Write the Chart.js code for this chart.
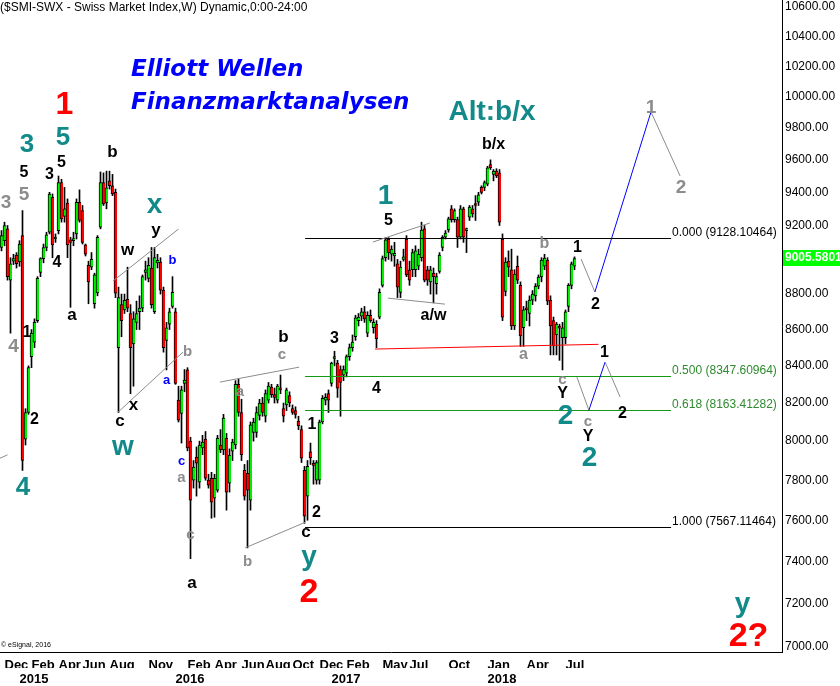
<!DOCTYPE html>
<html><head><meta charset="utf-8">
<style>html,body{margin:0;padding:0;background:#fff;overflow:hidden}canvas{display:block}</style>
<script src="https://cdn.jsdelivr.net/npm/chart.js@4.4.1/dist/chart.umd.min.js"></script>
</head><body>
<canvas id="c" width="840" height="686"></canvas>
<script>
// Weekly SMI candles, week 0 = 24 Nov 2014
const opens = [
9070,9110,9180,8880,8990,9025,8985,9140,8010,8150,
8450,8530,8650,8925,9005,9070,9160,9370,9120,9170,
9460,9255,9335,9115,9110,9150,9340,9290,9085,8965,
8955,8745,8806,9190,9460,9335,9470,9440,9400,8500,
8740,8710,8770,8690,8520,8640,8700,8720,8925,8890,
8950,8700,8980,8985,8823,8540,8630,8730,8700,8216,
8145,8305,8378,8000,7800,7918,7790,7965,8010,7800,
7810,7710,7750,7980,7955,8015,7785,7948,7980,8300,
8150,7850,7835,7700,8045,8045,8135,8200,8130,8215,
8285,8245,8215,8280,8170,8190,8240,8170,8160,8105,
8060,7850,7720,7945,7880,7800,7800,8100,8215,8250,
8305,8440,8415,8380,8350,8360,8450,8500,8560,8650,
8675,8700,8580,8680,8610,8630,8670,8850,9010,9120,
9030,9020,8975,8810,9000,9120,8940,8940,8940,8960,
9010,9180,8940,8870,8920,8860,8930,9070,9130,9173,
9300,9235,9235,9130,9300,9170,9250,9300,9330,9340,
9430,9430,9450,9570,9510,9530,9520,9120,8815,8990,
8940,8620,8960,8850,8610,8720,8690,8766,8790,8845,
8898,8960,8996,8766,8650,8570,8615,8555,8555,8730,
8850,8960];
const highs = [
9170,9220,9200,9010,9030,9040,9110,9290,8170,8400,
8600,8660,8900,9010,9090,9160,9400,9390,9150,9500,
9480,9430,9360,9130,9160,9360,9415,9320,9090,8990,
9040,8920,9140,9525,9519,9530,9530,9510,9420,8840,
8800,8800,8955,8740,8700,8760,8790,8910,8990,9010,
9070,9070,9030,9010,8840,8640,8720,8900,8720,8290,
8290,8380,8390,8020,7900,7970,8000,8030,8050,7830,
7840,7830,8030,8060,8140,8040,7960,8010,8320,8330,
8220,7880,7900,8100,8120,8180,8220,8230,8270,8310,
8300,8280,8300,8350,8200,8280,8260,8190,8180,8130,
8080,7870,7900,7990,7900,7900,8110,8240,8250,8270,
8420,8480,8430,8400,8400,8460,8520,8570,8680,8690,
8720,8730,8700,8710,8660,8650,8830,9020,9128,9128,
9080,9100,9000,8990,9060,9140,8990,9060,9080,9060,
9220,9200,8960,8960,8950,8920,9040,9140,9170,9250,
9320,9300,9250,9320,9310,9185,9320,9320,9380,9400,
9440,9470,9560,9600,9540,9545,9540,9150,9010,9050,
9060,8940,9020,8870,8730,8760,8790,8820,8860,8910,
9010,9030,9010,8790,8670,8640,8630,8640,8710,8860,
8985,9015];
const lows = [
9050,9080,8880,8580,8970,8950,8960,7850,7980,8140,
8390,8500,8640,8900,8980,9050,9150,9010,9100,9150,
9220,9220,9010,8725,9080,9120,9220,9090,9020,8745,
8940,8720,8790,9180,9320,9300,9420,9380,8780,8150,
8560,8690,8700,8250,8290,8600,8600,8700,8880,8870,
8720,8690,8950,8800,8475,8378,8600,8720,8300,8100,
7990,8260,7950,7413,7760,7720,7760,7930,7800,7760,
7610,7615,7740,7940,7930,7650,7740,7900,7960,8130,
7900,7700,7465,7650,8000,8020,8110,8130,8100,8200,
8230,8200,8200,8250,8100,8160,8180,8140,8120,8060,
7890,7585,7600,7880,7780,7780,7780,8090,8190,8150,
8290,8400,8230,8130,8320,8340,8430,8480,8540,8620,
8650,8640,8560,8640,8580,8500,8660,8840,8990,9000,
8990,8960,8780,8780,8990,8900,8850,8900,8900,8940,
8990,8870,8850,8800,8750,8800,8920,9050,9120,9160,
9220,9220,9070,9120,9100,9040,9230,9250,9230,9320,
9390,9410,9440,9540,9470,9490,9200,8650,8790,8900,
8600,8600,8860,8507,8507,8650,8620,8740,8760,8830,
8870,8940,8740,8460,8460,8460,8430,8378,8520,8700,
8830,8940];
const closes = [
9140,9200,8900,8975,9005,8975,9090,7900,8150,8390,
8580,8640,8890,9005,9070,9145,9390,9085,9130,9460,
9240,9300,9085,9100,9115,9340,9230,9100,9030,8870,
9000,8910,9130,9460,9330,9427,9440,9390,8805,8780,
8650,8765,8720,8500,8660,8690,8720,8900,8940,8965,
8740,9010,8995,8823,8500,8610,8700,8810,8305,8110,
8270,8323,7965,7700,7866,7886,7980,7995,7810,7775,
7690,7810,8015,7955,8120,7740,7928,7995,8300,8150,
7930,7720,7750,8085,8100,8150,8200,8150,8250,8290,
8245,8230,8290,8270,8130,8270,8200,8150,8140,8080,
7912,7620,7870,7915,7875,7890,8100,8225,8230,8215,
8415,8450,8280,8310,8380,8450,8500,8530,8665,8670,
8700,8660,8680,8650,8640,8550,8810,9005,9115,9040,
9060,9035,8840,8955,9015,8910,8880,9040,9050,9030,
9173,8880,8880,8940,8900,8900,9025,9130,9155,9240,
9235,9290,9130,9300,9130,9175,9310,9270,9320,9385,
9400,9460,9550,9550,9530,9500,9220,8670,8985,8955,
8620,8915,8880,8565,8710,8710,8766,8800,8845,8898,
8996,9008,8760,8620,8510,8630,8608,8610,8700,8850,
8975,9005];
const lastPrice = 9005.5801;

// axis labels
const yTickValues = [7000,7200,7400,7600,7800,8000,8200,8400,8600,8800,9000,9200,9400,9600,9800,10000,10200,10400,10600];
const monthLabels = ['Dec','Feb','Apr','Jun','Aug','Nov','Feb','Apr','Jun','Aug','Oct','Dec','Feb','May','Jul','Oct','Jan','Apr','Jul'];
const monthWeeks  = [1,10,19,27,36,49,62,71,80,88,97,106,115,127,136,149,162,175,188];
const yearLabels = ['2015','2016','2017','2018'];
const yearWeeks  = [6,58,110,162];

// Fibonacci levels
const fibRatios = ['0.000','0.500','0.618','1.000'];
const fibValues = [9128.10464, 8347.60964, 8163.41282, 7567.11464];
const fibFromWeek = 101.2, fibToWeek = 223.2;

// Elliott wave annotations: [text, week, price, colour, font size]
const waveLabels = [
['1',21,9948,'red',32],['5',20.5,9737,'teal',26],['3',8.5,9693,'teal',26],
['5',20,9580,'black',16],['3',16,9506,'black',16],['5',7.5,9519,'black',16],
['5',7.5,9383,'gray',19],['3',1.5,9335,'gray',19],['4',18.5,8984,'black',16],
['4',4,8502,'gray',19],['1',8.5,8581,'black',16],['2',11,8110,'black',16],
['4',7.2,7760,'teal',26],['a',23.5,8682,'black',17],['b',37,9649,'black',17],
['x',51,9323,'teal',28],['y',51.5,9173,'black',17],['w',42,9055,'black',17],
['b',57,8996,'blue',13],['a',55,8323,'blue',13],['b',62,8475,'gray',15],
['x',44,8189,'black',17],['c',39.5,8105,'black',17],['w',40.5,7969,'teal',28],
['c',60,7897,'blue',13],['a',60,7810,'gray',15],['c',63,7527,'gray',15],
['a',63.5,7297,'black',17],['a',79.5,8259,'gray',15],['b',94,8559,'black',17],
['c',93.5,8459,'gray',15],['b',82,7397,'gray',15],['1',103.5,8084,'black',16],
['c',101.5,7542,'black',17],['2',105,7636,'black',16],['y',102.5,7421,'teal',28],
['2',102.5,7250,'red',34],['3',111,8548,'black',16],['4',125,8275,'black',16],
['5',129,9227,'black',16],['1',128,9378,'teal',28],['a/w',144,8676,'black',16],
['Alt:b/x',163.5,9903,'teal',28],['b/x',164,9693,'black',16],['b',181,9090,'gray',16],
['a',174,8459,'gray',16],['1',192,9067,'black',16],['2',198,8743,'black',16],
['c',187,8323,'gray',15],['Y',187,8248,'black',16],['2',188,8130,'teal',28],
['1',201,8470,'black',16],['2',207,8146,'black',16],['c',195.5,8099,'gray',15],
['Y',195.5,8026,'black',16],['2',196,7914,'teal',28],['1',216.5,9928,'gray',19],
['2',226.5,9427,'gray',19],['y',247,7199,'teal',28],['2?',249,7050,'red',34]
];
// lines: [week1, price1, week2, price2, colour]
const waveLines = [
[-0.5,7912,2,7929,'gray'],[37.2,8875,59,9179,'gray'],[38.8,8151,60.5,8475,'gray'],
[72.8,8312,99.2,8393,'gray'],[81.2,7465,101.2,7590,'gray'],[123.8,9102,142.8,9215,'gray'],
[128.8,8777,147.8,8743,'gray'],[124.5,8492,199,8518,'red'],
[193.2,9002,197.8,8812,'gray'],[197.8,8812,216.5,9903,'blue'],[216.5,9903,226.2,9500,'gray'],
[191.8,8339,195.8,8162,'gray'],[195.8,8162,201.2,8421,'blue'],[201.2,8421,206.2,8232,'gray']
];
const colours = {red:'#ff0000', teal:'#138a8a', gray:'#8c8c8c', blue:'#0000ff', black:'#000000'};

const bodies = opens.map((o,i)=>({x:i, y:[o, closes[i]]}));
const wicks = opens.map((o,i)=>({x:i, y:[Math.min(lows[i],o,closes[i]), Math.max(highs[i],o,closes[i])]}));
const bodyColors = opens.map((o,i)=> closes[i]>=o ? '#00ee00' : '#ff0000');

const X_MIN = -0.5, X_MAX = -0.5 + 782/3;

const overlay = {
  id:'overlay',
  afterDatasetsDraw(chart){
    const {ctx, chartArea:a, scales} = chart;
    const X = v=>scales.x.getPixelForValue(v), Y = v=>scales.y.getPixelForValue(v);
    ctx.save();
    ctx.beginPath(); ctx.rect(a.left,a.top,a.right-a.left,a.bottom-a.top); ctx.clip();
    // header texts
    ctx.fillStyle='#000'; ctx.font='12px "Liberation Sans"'; ctx.textAlign='left'; ctx.textBaseline='middle';
    ctx.fillText('($SMI-SWX - Swiss Market Index,W) Dynamic,0:00-24:00', a.left, a.top+8);
    ctx.fillStyle='#0000ff'; ctx.font='italic bold 23px "DejaVu Sans"';
    ctx.fillText('Elliott Wellen', a.left+131, a.top+70);
    ctx.fillText('Finanzmarktanalysen', a.left+131, a.top+103);
    ctx.fillStyle='#000'; ctx.font='7px "Liberation Sans"';
    ctx.fillText('\u00a9 eSignal, 2016', a.left+1, a.bottom-7);
    // fib lines
    ctx.lineWidth=1;
    fibValues.forEach((v,i)=>{
      const isGreen = i===1||i===2;
      const yy = Math.round(Y(v))+0.5;
      ctx.strokeStyle = isGreen ? '#129a12' : '#000';
      ctx.beginPath(); ctx.moveTo(X(fibFromWeek),yy); ctx.lineTo(X(fibToWeek),yy); ctx.stroke();
      ctx.fillStyle = isGreen ? '#2e8b2e' : '#000';
      ctx.font='12px "Liberation Sans"'; ctx.textAlign='left'; ctx.textBaseline='alphabetic';
      ctx.fillText(fibRatios[i]+' ('+v.toFixed(5)+')', X(fibToWeek)+1, yy-3);
    });
    // wave lines
    waveLines.forEach(l=>{
      ctx.strokeStyle = colours[l[4]]; ctx.lineWidth=1;
      ctx.beginPath(); ctx.moveTo(X(l[0]),Y(l[1])); ctx.lineTo(X(l[2]),Y(l[3])); ctx.stroke();
    });
    // wave labels
    ctx.textAlign='center'; ctx.textBaseline='middle';
    waveLabels.forEach(w=>{
      ctx.fillStyle = colours[w[3]];
      ctx.font = 'bold '+w[4]+'px "Liberation Sans"';
      ctx.fillText(w[0], X(w[1]), Y(w[2]));
    });
    ctx.restore();
  },
  afterDraw(chart){
    const {ctx, chartArea:a, scales} = chart;
    const yy = scales.y.getPixelForValue(lastPrice);
    ctx.save();
    ctx.fillStyle='#00ff00'; ctx.fillRect(a.right+1, Math.round(yy)-8, 60, 16);
    ctx.fillStyle='#ffffff'; ctx.font='bold 12px "Liberation Sans"'; ctx.textAlign='left'; ctx.textBaseline='middle';
    ctx.fillText(lastPrice.toFixed(4), a.right+3, Math.round(yy));
    ctx.restore();
  }
};

new Chart(document.getElementById('c'), {
  type:'bar',
  data:{datasets:[
    {label:'body', data:bodies, order:0, grouped:false, barThickness:3, minBarLength:2,
     backgroundColor:bodyColors, borderColor:'#000', borderWidth:{left:1,right:0,top:1,bottom:1}, borderSkipped:false},
    {label:'wick', data:wicks, order:1, grouped:false, barThickness:1, backgroundColor:'#000', borderWidth:0}
  ]},
  options:{
    responsive:false, animation:false, devicePixelRatio:1,
    layout:{padding:0},
    plugins:{legend:{display:false}, tooltip:{enabled:false}},
    scales:{
      x:{type:'linear', position:'bottom', min:X_MIN, max:X_MAX, offset:false, weight:0,
         grid:{display:false, drawTicks:false}, border:{display:true, color:'#000', width:1},
         ticks:{autoSkip:false, maxRotation:0, align:'start', padding:6, color:'#000',
                font:{family:'Liberation Sans', size:13, weight:'bold'},
                callback:(v,i)=>monthLabels[i]},
         afterBuildTicks:s=>{s.ticks = monthWeeks.map(v=>({value:v}));},
         afterFit:s=>{s.height=16; s.paddingLeft=0; s.paddingRight=0;}},
      x2:{type:'linear', position:'bottom', min:X_MIN, max:X_MAX, offset:false, weight:1,
         grid:{display:false, drawTicks:false}, border:{display:false},
         ticks:{autoSkip:false, maxRotation:0, align:'start', padding:4, color:'#000',
                font:{family:'Liberation Sans', size:13, weight:'bold'},
                callback:(v,i)=>yearLabels[i]},
         afterBuildTicks:s=>{s.ticks = yearWeeks.map(v=>({value:v}));},
         afterFit:s=>{s.height=18; s.paddingLeft=0; s.paddingRight=0;}},
      y:{type:'logarithmic', position:'right', min:6978, max:10648,
         grid:{display:false, drawTicks:false}, border:{display:true, color:'#000', width:1},
         ticks:{padding:3, color:'#000', font:{family:'Liberation Sans', size:12},
                callback:v=>Number(v).toFixed(2)},
         afterBuildTicks:s=>{s.ticks = yTickValues.map(v=>({value:v}));},
         afterFit:s=>{s.width=58; s.paddingTop=0; s.paddingBottom=0;}}
    }
  },
  plugins:[overlay]
});
</script>
</body></html>
